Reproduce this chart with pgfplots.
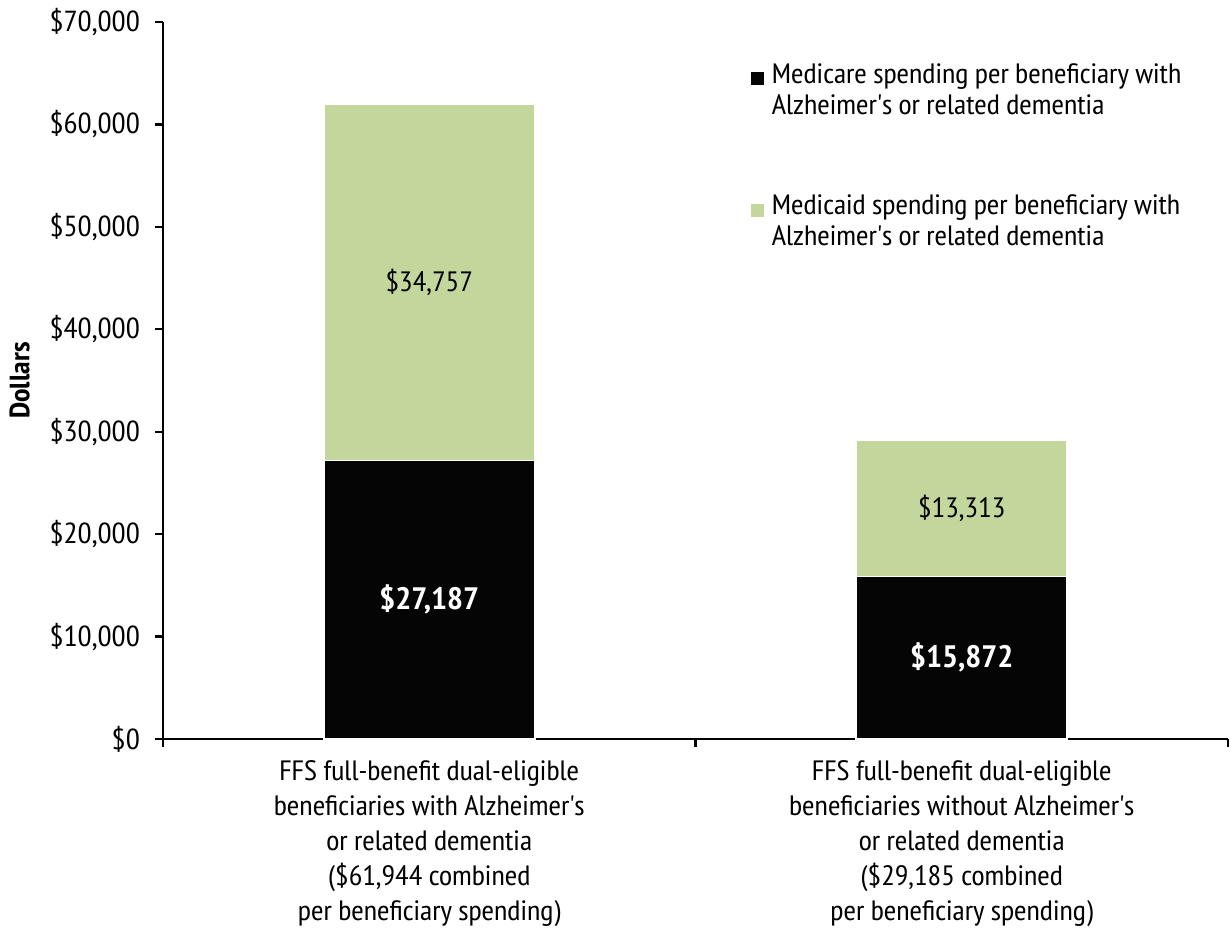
\documentclass[border=0pt]{standalone}
\usepackage{pgfplots}
\pgfplotsset{compat=1.18}
\usepackage{fontspec}
\setmainfont[FakeStretch=1.08]{PT Sans Narrow}
\definecolor{medicaid}{HTML}{C3D69B}
\definecolor{medicare}{HTML}{050505}
\newcommand{\apos}{\textquotesingle}

\begin{document}
\begin{tikzpicture}
\begin{axis}[
  scale only axis, width=532.5pt, height=358.5pt,
  ybar stacked, bar width=105.5pt,
  xmin=-0.5, xmax=1.5, ymin=0, ymax=70000,
  axis x line*=bottom, axis y line*=left,
  axis line style={line width=1.2pt},
  tick align=outside, major tick length=4pt,
  tick style={line width=1.2pt, black},
  scaled y ticks=false,
  ytick={0,10000,20000,30000,40000,50000,60000,70000},
  yticklabels={{\$0},{\$10,000},{\$20,000},{\$30,000},{\$40,000},{\$50,000},{\$60,000},{\$70,000}},
  yticklabel style={font=\fontsize{14.5}{17}\selectfont, xshift=-4pt},
  xtick={-0.5,0.5,1.5}, xticklabels={},
  extra x ticks={0,1},
  extra x tick style={major tick length=0pt},
  extra x tick labels={{FFS full-benefit dual-eligible\\beneficiaries with Alzheimer\apos s\\or related dementia\\(\$61,944 combined\\per beneficiary spending)},
    {FFS full-benefit dual-eligible\\beneficiaries without Alzheimer\apos s\\or related dementia\\(\$29,185 combined\\per beneficiary spending)}},
  xticklabel style={align=center, font=\fontsize{14}{17.5}\selectfont, yshift=-7pt},
  ylabel={Dollars},
  ylabel shift=3pt,
  ylabel style={font=\fontsize{14}{17}\selectfont\bfseries},
  legend cell align=left,
  legend style={at={(0.546,0.954)}, anchor=north west, draw=none, fill=none,
    font=\fontsize{14}{15.5}\selectfont, row sep=35pt,
    nodes={align=left},
    /tikz/every odd column/.append style={column sep=2pt}},
  legend image code/.code={\fill[#1, draw=none] (0pt,2.5pt) rectangle (6.5pt,9pt);},
]
\addplot[fill=medicare, draw=white, line width=0.8pt] coordinates {(0,27187) (1,15872)};
\addlegendentry{Medicare spending per beneficiary with\\Alzheimer\apos s or related dementia}
\addplot[fill=medicaid, draw=white, line width=0.8pt] coordinates {(0,34757) (1,13313)};
\addlegendentry{Medicaid spending per beneficiary with\\Alzheimer\apos s or related dementia}
\end{axis}
\begin{axis}[
  scale only axis, width=532.5pt, height=358.5pt,
  xmin=-0.5, xmax=1.5, ymin=0, ymax=70000,
  hide axis,
]
\addplot[draw=none, mark=none, nodes near coords, point meta=explicit symbolic,
  nodes near coords style={anchor=center, text=white, font=\fontsize{15.5}{18}\selectfont\bfseries}]
  coordinates {(0,13593.5)[\$27,187] (1,7936)[\$15,872]};
\addplot[draw=none, mark=none, nodes near coords, point meta=explicit symbolic,
  nodes near coords style={anchor=center, text=black, font=\fontsize{14}{17}\selectfont}]
  coordinates {(0,44565.5)[\$34,757] (1,22528.5)[\$13,313]};
\end{axis}
\pgfresetboundingbox
\path[use as bounding box] (-81.5pt,-94.5pt) rectangle (534pt,369.5pt);
\end{tikzpicture}
\end{document}
